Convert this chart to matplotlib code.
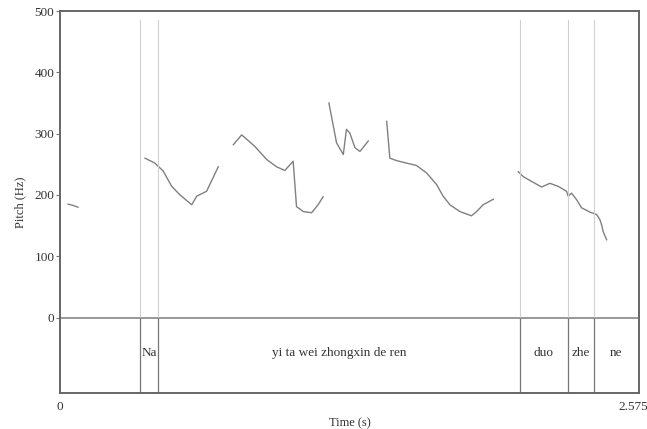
import matplotlib.pyplot as plt

# pitch contour pieces (time in s, pitch in Hz)
t1 = [0.036, 0.058, 0.080]
f1 = [185, 183, 180]
t2 = [0.378, 0.422, 0.459, 0.497, 0.534, 0.586, 0.608, 0.652, 0.704]
f2 = [260, 252, 239, 214, 200, 184, 198, 206, 246]
t3 = [0.771, 0.808, 0.830, 0.867, 0.919, 0.963, 1.000, 1.037, 1.052, 1.082, 1.119, 1.148, 1.170]
f3 = [282, 298, 291, 279, 258, 246, 240, 255, 181, 173, 171, 184, 197]
t4 = [1.196, 1.230, 1.260, 1.274, 1.289, 1.312, 1.334, 1.371]
f4 = [350, 285, 266, 307, 301, 277, 271, 288]
t5 = [1.453, 1.467, 1.497, 1.541, 1.586, 1.630, 1.675, 1.704, 1.734, 1.778, 1.830, 1.853, 1.882, 1.927]
f5 = [320, 260, 256, 252, 248, 236, 217, 198, 184, 173, 166, 173, 184, 193]
t6 = [2.038, 2.060, 2.098, 2.142, 2.179, 2.216, 2.253, 2.260, 2.275, 2.298, 2.320, 2.357, 2.387, 2.401,
      2.409, 2.416, 2.431]
f6 = [238, 230, 222, 213, 219, 214, 206, 198, 203, 192, 179, 172, 168, 160, 151, 140, 127]
pieces = [(t1, f1), (t2, f2), (t3, f3), (t4, f4), (t5, f5), (t6, f6)]

# text grid tier
boundaries = [0.356, 0.436, 2.045, 2.259, 2.374]
labels = ['', 'Na', 'yi ta wei zhongxin de ren', 'duo', 'zhe', 'ne']
t_end = 2.575
y_ticks = [0, 100, 200, 300, 400, 500]

plt.rcParams['font.family'] = 'Liberation Serif'
fig = plt.figure(figsize=(6.47, 4.29), dpi=100)
ax = fig.add_axes([0.0927, 0.0839, 0.8949, 0.8904])

for t, f in pieces:
    ax.plot(t, f, color='#808080', lw=1.0)

ax.axhline(0, color='#888888', lw=1.2)
for b in boundaries:
    ax.plot([b, b], [0, 485], color='#d0d0d0', lw=0.8)
    ax.plot([b, b], [-123, 0], color='#777777', lw=0.9)

edges = [0] + boundaries + [t_end]
for i, lab in enumerate(labels):
    ax.text((edges[i] + edges[i + 1]) / 2, -58, lab, ha='center', va='center', fontsize=9.5, color='#333333')

ax.set_xlim(0, t_end)
ax.set_ylim(-123, 500)
ax.set_yticks(y_ticks)
ax.set_yticklabels([str(v) for v in y_ticks], fontsize=9.5, color='#333333')
ax.set_xticks([0])
ax.set_xticklabels(['0'], fontsize=9.5, color='#333333')
# end time label sits a bit left of the right edge, like Praat
ax.annotate('2.575', xy=(t_end, -123), xycoords='data', xytext=(-4, -6), textcoords='offset points',
            ha='center', va='top', fontsize=9.5, color='#333333', annotation_clip=False)
ax.tick_params(axis='y', length=3, color='#777777', pad=1)
ax.tick_params(axis='x', length=0, pad=6)
for s in ax.spines.values():
    s.set_color('#666666')
    s.set_linewidth(1.4)

ax.set_ylabel('Pitch (Hz)', fontsize=9, color='#333333', labelpad=6)
ax.set_xlabel('Time (s)', fontsize=9, color='#333333', labelpad=3)

fig.savefig('out.png', dpi=100)
